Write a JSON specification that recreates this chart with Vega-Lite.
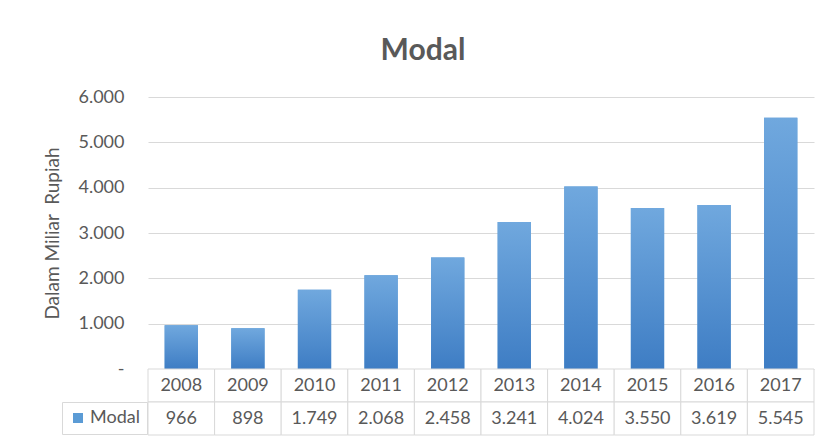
{
  "$schema": "https://vega.github.io/schema/vega-lite/v6.json",
  "background": "white",
  "padding": {"left": 43, "top": 36, "right": 13, "bottom": 3},
  "config": {
    "font": "Lato",
    "locale": {"number": {"decimal": ",", "thousands": ".", "grouping": [3], "currency": ["Rp", ""]}},
    "view": {"stroke": null}
  },
  "datasets": {
    "modal": [
      {"tahun": "2008", "modal": 966, "seri": "Modal"},
      {"tahun": "2009", "modal": 898, "seri": "Modal"},
      {"tahun": "2010", "modal": 1749, "seri": "Modal"},
      {"tahun": "2011", "modal": 2068, "seri": "Modal"},
      {"tahun": "2012", "modal": 2458, "seri": "Modal"},
      {"tahun": "2013", "modal": 3241, "seri": "Modal"},
      {"tahun": "2014", "modal": 4024, "seri": "Modal"},
      {"tahun": "2015", "modal": 3550, "seri": "Modal"},
      {"tahun": "2016", "modal": 3619, "seri": "Modal"},
      {"tahun": "2017", "modal": 5545, "seri": "Modal"}
    ]
  },
  "bounds": "flush",
  "spacing": 0,
  "vconcat": [
    {
      "width": 666,
      "height": 272,
      "title": {"text": "Modal", "font": "Lato", "fontSize": 30, "fontWeight": "bold", "color": "#595959", "anchor": "middle", "dx": -58, "offset": 22},
      "data": {"name": "modal"},
      "encoding": {
        "x": {"field": "tahun", "type": "ordinal", "axis": null, "scale": {"paddingInner": 0, "paddingOuter": 0}},
        "y": {
          "field": "modal", "type": "quantitative",
          "scale": {"domain": [0, 6000], "nice": false},
          "axis": {
            "values": [0, 1000, 2000, 3000, 4000, 5000, 6000],
            "format": ",.0f",
            "labelExpr": "datum.value === 0 ? '-' : datum.label",
            "domain": false, "ticks": false,
            "grid": true, "gridColor": "#d9d9d9", "gridWidth": 1,
            "labelFont": "Lato", "labelFontSize": 18, "labelColor": "#595959", "labelPadding": 24,
            "title": "Dalam Miliar \u00a0Rupiah", "titleFont": "Lato", "titleFontSize": 19, "titleFontWeight": "normal", "titleColor": "#595959", "titlePadding": 15
          }
        }
      },
      "layer": [
        {
          "mark": {"type": "bar", "width": {"band": 0.5}},
          "encoding": {
            "color": {
              "field": "seri", "type": "nominal",
              "scale": {"range": ["#5b9bd5"]},
              "legend": {
                "orient": "none", "legendX": -86, "legendY": 305, "title": null,
                "symbolType": "square", "symbolSize": 100,
                "labelFont": "Lato", "labelFontSize": 18, "labelColor": "#595959", "labelOffset": 3,
                "strokeColor": "#d9d9d9", "padding": 7
              }
            }
          }
        },
        {
          "mark": {
            "type": "bar", "width": {"band": 0.5},
            "fill": {"gradient": "linear", "x1": 0, "y1": 0, "x2": 0, "y2": 1, "stops": [{"offset": 0, "color": "#70a8de"}, {"offset": 1, "color": "#3e7dc4"}]}
          }
        }
      ]
    },
    {
      "width": 666,
      "height": 66,
      "data": {"name": "modal"},
      "encoding": {
        "x": {"field": "tahun", "type": "ordinal", "axis": null, "scale": {"paddingInner": 0, "paddingOuter": 0}}
      },
      "layer": [
        {
          "mark": {"type": "rect", "fill": "white", "stroke": "#d9d9d9", "strokeWidth": 1},
          "encoding": {"y": {"datum": "tahun", "type": "nominal", "axis": null, "scale": {"domain": ["tahun", "modal"], "paddingInner": 0, "paddingOuter": 0}}}
        },
        {
          "mark": {"type": "rect", "fill": "white", "stroke": "#d9d9d9", "strokeWidth": 1},
          "encoding": {"y": {"datum": "modal", "type": "nominal"}}
        },
        {
          "mark": {"type": "text", "font": "Lato", "fontSize": 18, "color": "#595959"},
          "encoding": {"y": {"datum": "tahun", "type": "nominal"}, "text": {"field": "tahun", "type": "nominal"}}
        },
        {
          "mark": {"type": "text", "font": "Lato", "fontSize": 18, "color": "#595959"},
          "encoding": {"y": {"datum": "modal", "type": "nominal"}, "text": {"field": "modal", "type": "quantitative", "format": ",.0f"}}
        }
      ]
    }
  ]
}
